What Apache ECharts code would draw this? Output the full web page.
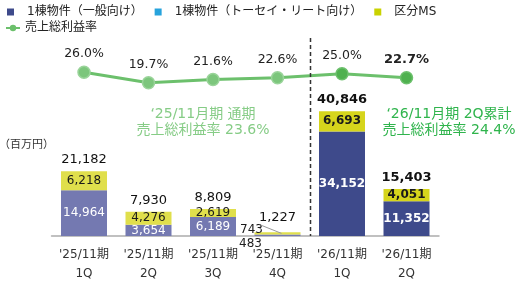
<!DOCTYPE html>
<html><head><meta charset="utf-8">
<script src="https://cdn.jsdelivr.net/npm/echarts@6/dist/echarts.min.js"></script>
<style>html,body{margin:0;padding:0;background:#fff}#c{width:515px;height:283px}</style>
</head><body><div id="c"></div>
<script>
const categories = ["'25/11期\n1Q","'25/11期\n2Q","'25/11期\n3Q","'25/11期\n4Q","'26/11期\n1Q","'26/11期\n2Q"];
const general = [14964, 3654, 6189, 483, 34152, 11352];
const toseiReit = [null, null, null, null, null, null];
const unitMS = [6218, 4276, 2619, 743, 6693, 4051];
const totals = [21182, 7930, 8809, 1227, 40846, 15403];
const grossMargin = [26.0, 19.7, 21.6, 22.6, 25.0, 22.7];
const seriesNames = ["1棟物件（一般向け）", "1棟物件（トーセイ・リート向け）", "区分MS", "売上総利益率"];
const annot25 = ["‘25/11月期 通期", "売上総利益率 23.6%"];
const annot26 = ["‘26/11月期 2Q累計", "売上総利益率 24.4%"];
const unitLabel = "（百万円）";

const FONT = 'Verdana, "DejaVu Sans", "Noto Sans CJK JP", sans-serif';
const is26 = categories.map(c => c.indexOf("'26") === 0);
const fmt = v => v.toLocaleString('en-US');
const lastIdx = grossMargin.length - 1;
const smallIdx = 3;

const chart = echarts.init(document.getElementById('c'), null, {renderer: 'canvas'});

const generalData = general.map((v, i) => ({
  value: v,
  itemStyle: {color: is26[i] ? '#3e4a8b' : '#7479b1'},
  label: {fontWeight: is26[i] ? 'bold' : 'normal', position: i === smallIdx ? 'bottom' : 'inside', color: i === smallIdx ? '#222' : '#fff'}
}));
const msData = unitMS.map((v, i) => ({
  value: v,
  itemStyle: {color: is26[i] ? '#d6d51c' : '#e0df4c'},
  label: {fontWeight: is26[i] ? 'bold' : 'normal', position: i === smallIdx ? 'top' : 'inside'}
}));
const totalData = totals.map((v, i) => ({
  value: v,
  label: {fontWeight: is26[i] ? 'bold' : 'normal'}
}));
const lineData = grossMargin.map((v, i) => ({
  value: v,
  itemStyle: {color: is26[i] ? '#4fb14f' : '#7cc67c', borderColor: is26[i] ? '#6cc06c' : '#9ad49a', borderWidth: 1.5},
  label: {fontWeight: i === lastIdx ? 'bold' : 'normal', fontSize: i === lastIdx ? 13 : 12.5}
}));

const legendText = {fontSize: 12, color: '#222', fontFamily: FONT, rich: {t: {fontSize: 12, color: '#222', fontFamily: FONT, padding: [0, 0, 0, 8]}}};

const option = {
  animation: false,
  textStyle: {fontFamily: FONT},
  legend: [
    {data: seriesNames.slice(0, 3), left: 2, top: 1, icon: 'rect', itemWidth: 7, itemHeight: 7, itemGap: 12,
     formatter: n => '{t|' + n + '}', textStyle: legendText},
    {data: [seriesNames[3]], left: 0, top: 17, itemWidth: 14, itemHeight: 8,
     textStyle: {fontSize: 12, color: '#222', fontFamily: FONT}}
  ],
  grid: {left: 51.75, right: 76.25, top: 22, bottom: 44, containLabel: false},
  xAxis: {
    type: 'category', data: categories,
    axisLine: {lineStyle: {color: '#c0c0c0', width: 2}},
    axisTick: {show: false},
    axisLabel: {interval: 0, color: '#333', fontSize: 12, lineHeight: 19, margin: 9, fontFamily: FONT}
  },
  yAxis: [
    {type: 'value', min: 0, max: 70000, show: false, splitLine: {show: false}},
    {type: 'value', min: -72, max: 56, show: false, splitLine: {show: false}}
  ],
  series: [
    {name: seriesNames[0], type: 'bar', stack: 'q', barWidth: 46, data: generalData,
     itemStyle: {color: '#3e4a8b'},
     label: {show: true, fontSize: 12, fontFamily: FONT, formatter: p => fmt(p.value)},
     labelLayout: p => p.dataIndex === smallIdx ? {dx: -27, dy: -3} : {}},
    {name: seriesNames[1], type: 'bar', stack: 'q', barWidth: 46, data: toseiReit,
     itemStyle: {color: '#27a3dc'}},
    {name: seriesNames[2], type: 'bar', stack: 'q', barWidth: 46, data: msData,
     itemStyle: {color: '#c9d200'},
     label: {show: true, fontSize: 12, color: '#1a1a1a', fontFamily: FONT, formatter: p => fmt(p.value)},
     labelLayout: p => p.dataIndex === smallIdx ? {dx: -26, dy: 9} : {}},
    {name: 'total', type: 'bar', barWidth: 46, barGap: '-100%', data: totalData, silent: true, z: 1,
     itemStyle: {color: 'rgba(0,0,0,0)'},
     label: {show: true, position: 'top', distance: 5, fontSize: 13, color: '#111', fontFamily: FONT, formatter: p => fmt(p.value)},
     labelLayout: p => p.dataIndex === smallIdx ? {dy: -3} : {}},
    {name: seriesNames[3], type: 'line', yAxisIndex: 1, data: lineData, z: 5,
     symbol: 'circle', symbolSize: 12,
     lineStyle: {color: '#6cc06c', width: 3},
     itemStyle: {color: '#6cc06c'},
     label: {show: true, position: 'top', distance: 5, color: '#222', fontFamily: FONT, formatter: p => p.value.toFixed(1) + '%'}}
  ],
  graphic: [
    {id: 'unit', type: 'text', left: -1, top: 140, style: {text: unitLabel, fontSize: 11, fill: '#333', fontFamily: FONT}},
    {id: 'a25', type: 'text', x: 203, y: 106, style: {text: annot25.join('\n'), fontSize: 14, lineHeight: 16, fill: '#86cc86', align: 'center', verticalAlign: 'top', fontFamily: FONT}},
    {id: 'a26', type: 'text', x: 449, y: 106, style: {text: annot26.join('\n'), fontSize: 14, lineHeight: 16, fill: '#2fb44c', align: 'center', verticalAlign: 'top', fontFamily: FONT}}
  ]
};
chart.setOption(option);

const g = {xAxisIndex: 0, yAxisIndex: 0};
const xa = chart.convertToPixel({xAxisIndex: 0}, 3);
const xb = chart.convertToPixel({xAxisIndex: 0}, 4);
const xm = Math.round((xa + xb) / 2) + 0.5;
const yBase = chart.convertToPixel({yAxisIndex: 0}, 0);
const leadEnd = chart.convertToPixel(g, [smallIdx, general[smallIdx] + unitMS[smallIdx] / 2]);
chart.setOption({graphic: [
  {id: 'divider', type: 'line', shape: {x1: xm, y1: 38, x2: xm, y2: yBase}, style: {stroke: '#333', lineWidth: 1.5, lineDash: [4, 3]}, z: 10},
  {id: 'leader', type: 'line', shape: {x1: leadEnd[0] - 16, x2: leadEnd[0] + 4, y1: leadEnd[1] - 8, y2: leadEnd[1]}, style: {stroke: '#999', lineWidth: 1}, z: 10}
]});
</script>
</body></html>
